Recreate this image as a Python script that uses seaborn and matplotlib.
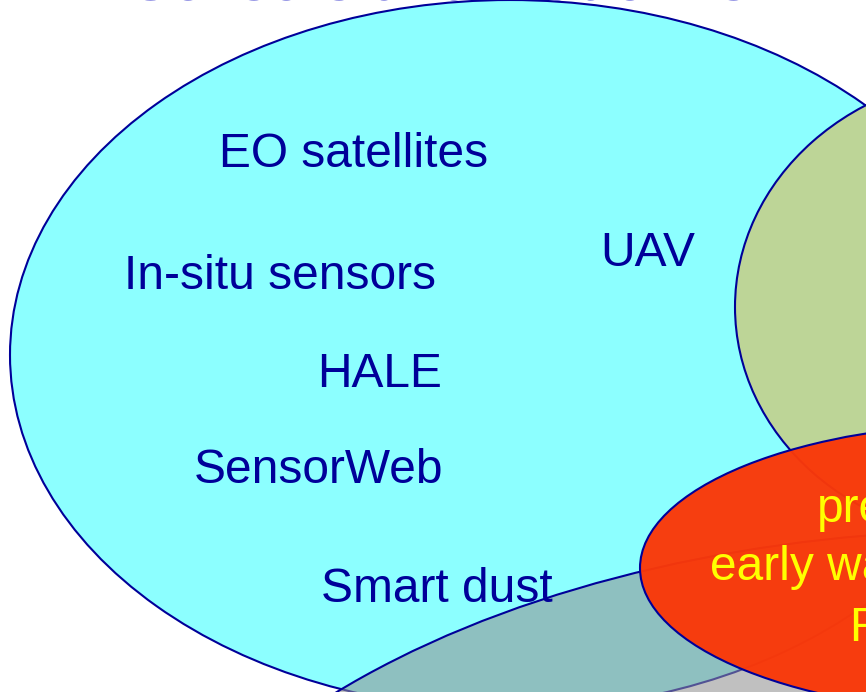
import matplotlib
matplotlib.use("Agg")
import matplotlib.pyplot as plt
from matplotlib.patches import Ellipse
import seaborn as sns

# overlapping sets (pixel space of the slide, y grows downwards)
set_names = ["sensors", "platforms", "data", "services"]
set_cx = [510, 1000, 1000, 1000]
set_cy = [355, 307, 1030, 568]
set_w = [1000, 530, 1800, 720]
set_h = [710, 468, 1000, 290]
set_fill = [(0.549, 1.0, 1.0, 1.0),
            (0.741, 0.835, 0.592, 1.0),
            (0.569, 0.569, 0.569, 0.574),
            (0.98, 0.22, 0.03, 0.97)]

sensor_labels = ["EO satellites", "In-situ sensors", "UAV", "HALE", "SensorWeb", "Smart dust"]
sensor_x = [222, 127, 603, 320, 197, 324]
sensor_y = [167, 289, 266, 387, 483, 602]

service_labels = ["prevention,", "early warning,", "Response"]
service_x = [820, 713, 852]
service_y = [522, 580, 641]

title = "Sensors and Platforms"

sns.set_theme(style="white")
plt.rcParams["font.family"] = ["Liberation Sans", "DejaVu Sans"]

fig = plt.figure(figsize=(8.66, 6.92), dpi=100)
ax = fig.add_axes([0, 0, 1, 1])
ax.set_xlim(0, 866)
ax.set_ylim(692, 0)
ax.set_axis_off()

navy = "#000099"
for i, name in enumerate(set_names):
    ax.add_patch(Ellipse((set_cx[i], set_cy[i]), set_w[i], set_h[i],
                         facecolor=set_fill[i], edgecolor=navy,
                         linewidth=1.5, zorder=i + 1))

for label, x, y in zip(sensor_labels, sensor_x, sensor_y):
    ax.text(x - 3, y, label, color=navy, fontsize=34.5, ha="left",
            va="baseline", zorder=10)

for label, x, y in zip(service_labels, service_x, service_y):
    ax.text(x - 3, y, label, color="#FFFF00", fontsize=34.5, ha="left",
            va="baseline", zorder=10)

# slide title sits just above the crop, only its bottom pixels show
ax.text(130, -1, title, color="#3333CC", fontsize=44, ha="left",
        va="baseline", zorder=10)

fig.savefig("out.png", dpi=100)
